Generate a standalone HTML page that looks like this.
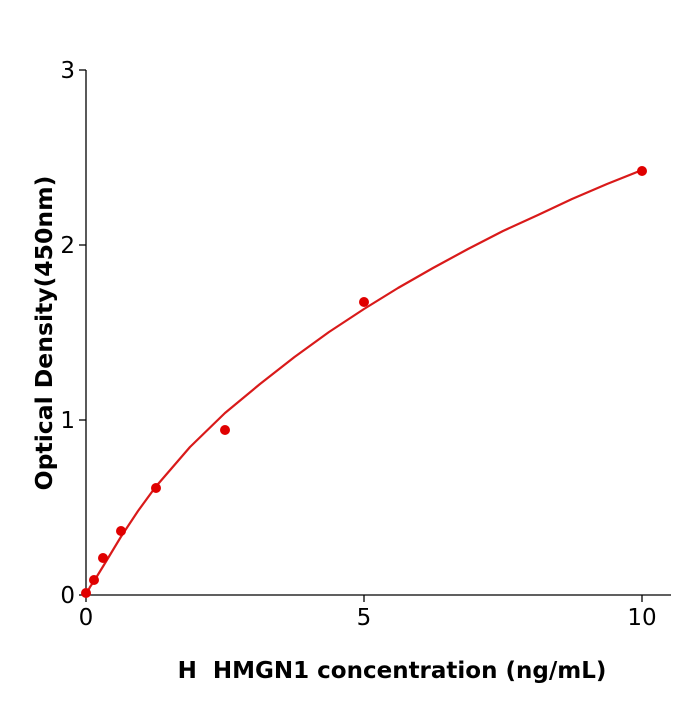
<!DOCTYPE html>
<html><head><style>body{margin:0;background:#fff}</style></head><body>
<svg width="700" height="700" xmlns="http://www.w3.org/2000/svg" font-family="DejaVu Sans, Liberation Sans, sans-serif">
<g stroke="#000" stroke-width="1.3" fill="none">
<line x1="86" y1="70" x2="86" y2="595"/>
<line x1="86" y1="595" x2="671" y2="595"/>
<line x1="79" y1="595" x2="86" y2="595"/>
<line x1="79" y1="420" x2="86" y2="420"/>
<line x1="79" y1="245" x2="86" y2="245"/>
<line x1="79" y1="70" x2="86" y2="70"/>
<line x1="86" y1="595" x2="86" y2="602"/>
<line x1="364" y1="595" x2="364" y2="602"/>
<line x1="642" y1="595" x2="642" y2="602"/>
</g>
<g font-size="23" fill="#000" text-anchor="end">
<text x="75" y="603">0</text><text x="75" y="428">1</text><text x="75" y="253">2</text><text x="75" y="78">3</text>
</g>
<g font-size="23" fill="#000" text-anchor="middle">
<text x="86" y="625">0</text><text x="364" y="625">5</text><text x="642" y="625">10</text>
</g>
<text x="392" y="678" font-size="23" font-weight="bold" text-anchor="middle" xml:space="preserve" style="white-space:pre">H  HMGN1 concentration (ng/mL)</text>
<text transform="translate(52,333) rotate(-90)" font-size="23.5" font-weight="bold" text-anchor="middle">Optical Density(450nm)</text>
<path d="M86,595 L90,587 L94.7,580 L103.3,566 L120.8,537 L138,511 L155.5,487 L190,447 L225,413 L260,384 L294.5,357 L329,332 L364,309 L398,288 L433,268 L468,249 L503,231 L538,215 L572,199 L607,184 L642,170" fill="none" stroke="#d91a1a" stroke-width="2.2" stroke-linejoin="round"/>
<g fill="#e00000">
<circle cx="86" cy="593" r="5"/><circle cx="94" cy="580" r="5"/><circle cx="103" cy="558" r="5"/>
<circle cx="121" cy="531" r="5"/><circle cx="156" cy="488" r="5"/><circle cx="225" cy="430" r="5"/>
<circle cx="364" cy="302" r="5"/><circle cx="642" cy="171" r="5"/>
</g>
</svg>
</body></html>
